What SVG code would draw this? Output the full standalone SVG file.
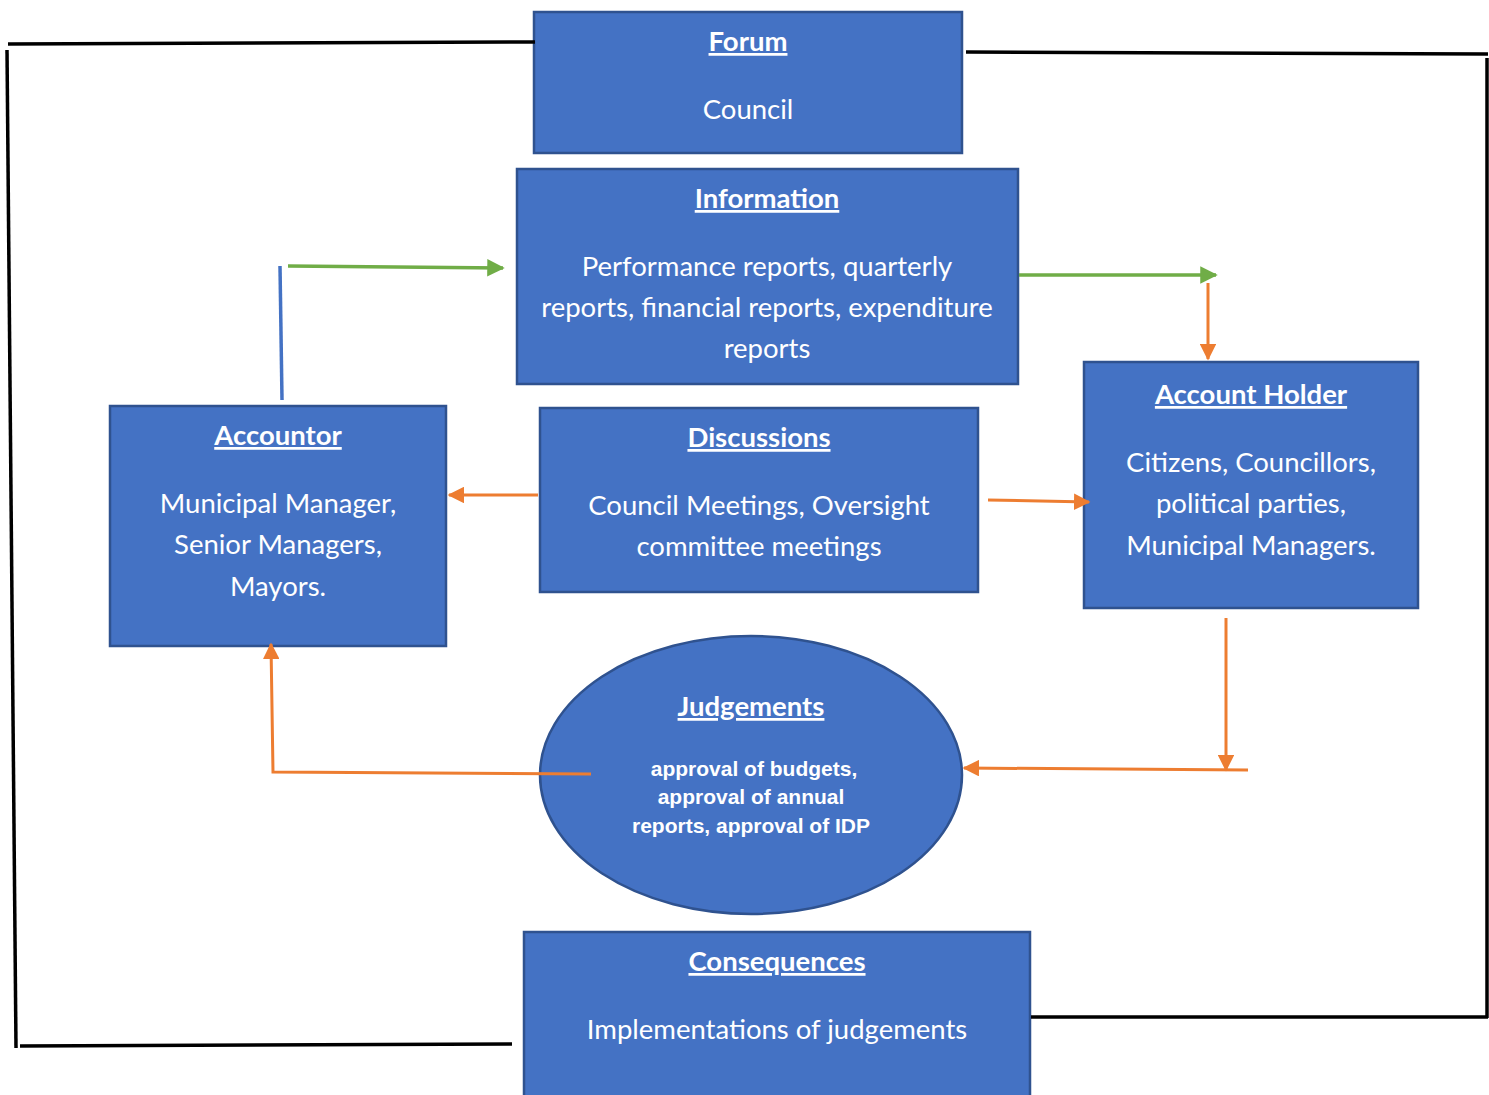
<svg xmlns="http://www.w3.org/2000/svg" width="1489" height="1095" viewBox="0 0 1489 1095">
<style>
.box{fill:#4472C4;stroke:#2F528F;stroke-width:2.5}
.t{font-family:Lato,"Open Sans",sans-serif;font-size:27.5px;fill:#fff;text-anchor:middle}
.h{font-weight:bold;text-decoration:underline}
.j{font-family:"Liberation Sans",Arial,sans-serif;font-size:21px;font-weight:bold;fill:#fff;text-anchor:middle}
.blk{stroke:#000;stroke-width:3.5;fill:none}
.g{stroke:#70AD47;stroke-width:3.5;fill:none}
.o{stroke:#ED7D31;stroke-width:3;fill:none}
</style>
<defs>
<marker id="ag" markerWidth="5" markerHeight="5" refX="4.5" refY="2.5" orient="auto" markerUnits="strokeWidth"><path d="M0,0 L5,2.5 L0,5 Z" fill="#70AD47"/></marker>
<marker id="ao" markerWidth="5.5" markerHeight="5.5" refX="5" refY="2.75" orient="auto" markerUnits="strokeWidth"><path d="M0,0 L5.5,2.75 L0,5.5 Z" fill="#ED7D31"/></marker>
</defs>
<rect width="1489" height="1095" fill="#fff"/>
<g id="forum">
<rect class="box" x="534" y="12" width="428" height="141"/>
<text class="t h" x="748" y="51">Forum</text>
<text class="t" x="748" y="119">Council</text>
</g>
<g id="information">
<rect class="box" x="517" y="169" width="501" height="215"/>
<text class="t h" x="767" y="208">Information</text>
<text class="t" x="767" y="276">Performance reports, quarterly</text>
<text class="t" x="767" y="317">reports, financial reports, expenditure</text>
<text class="t" x="767" y="358">reports</text>
</g>
<g id="accountor">
<rect class="box" x="110" y="406" width="336" height="240"/>
<text class="t h" x="278" y="445">Accountor</text>
<text class="t" x="278" y="513">Municipal Manager,</text>
<text class="t" x="278" y="554">Senior Managers,</text>
<text class="t" x="278" y="596">Mayors.</text>
</g>
<g id="discussions">
<rect class="box" x="540" y="408" width="438" height="184"/>
<text class="t h" x="759" y="447">Discussions</text>
<text class="t" x="759" y="515">Council Meetings, Oversight</text>
<text class="t" x="759" y="556">committee meetings</text>
</g>
<g id="account-holder">
<rect class="box" x="1084" y="362" width="334" height="246"/>
<text class="t h" x="1251" y="404">Account Holder</text>
<text class="t" x="1251" y="472">Citizens, Councillors,</text>
<text class="t" x="1251" y="513">political parties,</text>
<text class="t" x="1251" y="555">Municipal Managers.</text>
</g>
<g id="judgements">
<ellipse class="box" cx="751" cy="775" rx="211" ry="139"/>
<text class="t h" x="751" y="716">Judgements</text>
<text class="j" x="754" y="776">approval of budgets,</text>
<text class="j" x="751" y="804">approval of annual</text>
<text class="j" x="751" y="833">reports, approval of IDP</text>
</g>
<g id="consequences">
<rect class="box" x="524" y="932" width="506" height="175"/>
<text class="t h" x="777" y="971">Consequences</text>
<text class="t" x="777" y="1039">Implementations of judgements</text>
</g>
<g id="connectors">
<path class="blk" d="M8,44 L535,42"/>
<path class="blk" d="M7,50 L16,1048"/>
<path class="blk" d="M20,1046 L512,1044"/>
<path class="blk" d="M966,52 L1488,54"/>
<path class="blk" d="M1487,58 L1487,1018"/>
<path class="blk" d="M1031,1017 L1488,1017"/>
<path d="M280,266 L282,400" stroke="#4472C4" stroke-width="3.5" fill="none"/>
<path class="g" d="M288,266 L503,268" marker-end="url(#ag)"/>
<path class="g" d="M1019,275 L1216,275" marker-end="url(#ag)"/>
<path class="o" d="M1208,283 L1208,359" marker-end="url(#ao)"/>
<path class="o" d="M538,495 L449,495" marker-end="url(#ao)"/>
<path class="o" d="M988,500 L1089,502" marker-end="url(#ao)"/>
<path class="o" d="M591,774 L273,772 L271,644" marker-end="url(#ao)"/>
<path class="o" d="M1226,618 L1226,770" marker-end="url(#ao)"/>
<path class="o" d="M1248,770 L964,768" marker-end="url(#ao)"/>
</g>
</svg>
